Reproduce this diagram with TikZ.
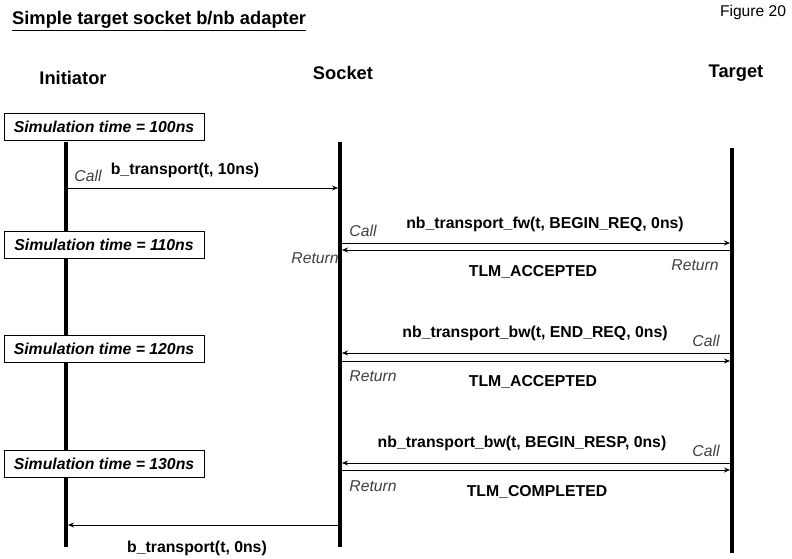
\documentclass[tikz,border=0pt]{standalone}
\usepackage{fontspec}
\setmainfont{Liberation Sans}
\usetikzlibrary{arrows.meta}
\begin{document}
\begin{tikzpicture}[x=1pt,y=-1pt,
  life/.style={line width=3.6pt},
  msg/.style={line width=0.8pt,-{Stealth[length=6pt,width=5pt]}},
  simbox/.style={draw,line width=0.8pt,minimum width=200pt,minimum height=27pt,inner sep=0pt,font=\fontsize{15.8}{18}\selectfont\bfseries\itshape},
  lbl/.style={font=\fontsize{15.8}{18}\selectfont\bfseries,inner sep=0pt},
  cr/.style={font=\fontsize{15.7}{18}\selectfont\itshape,text=black!75,inner sep=0pt},
  head/.style={font=\fontsize{18.3}{21}\selectfont\bfseries,inner sep=0pt}]
\useasboundingbox (0,0) rectangle (792,559);
% title
\node[font=\fontsize{18.3}{21}\selectfont\bfseries,inner sep=0pt,anchor=west] (title) at (12,21) {\underline{Simple target socket b/nb adapter}};
\node[font=\fontsize{15.6}{18}\selectfont,inner sep=0pt] (fig) at (753,12) {Figure 20};
% headers
\node[head] (hi) at (73,78) {Initiator};
\node[head] (hs) at (343,73) {Socket};
\node[head] (ht) at (736,73) {Target};
% lifelines
\coordinate (it) at (66,142); \coordinate (ib) at (66,547);
\coordinate (st) at (340,142); \coordinate (sb) at (340,547);
\coordinate (tt) at (732,148); \coordinate (tb) at (732,553);
\draw[life] (it) -- (ib);
\draw[life] (st) -- (sb);
\draw[life] (tt) -- (tb);
% simulation time boxes
\node[simbox,fill=white] (s100) at (104,127) {Simulation time = 100ns};
\node[simbox,fill=white] (s110) at (104,244.5) {Simulation time = 110ns};
\node[simbox,fill=white] (s120) at (104,348.5) {Simulation time = 120ns};
\node[simbox,fill=white] (s130) at (104,463.5) {Simulation time = 130ns};
% message 1
\coordinate (a1s) at (68,188); \coordinate (a1e) at (338,188);
\draw[msg] (a1s) -- (a1e);
\node[lbl] (l1) at (185,170) {b\_transport(t, 10ns)};
\node[cr] (c1) at (88,176) {Call};
% message 2
\coordinate (a2s) at (342,243); \coordinate (a2e) at (730,243);
\coordinate (r2s) at (730,250); \coordinate (r2e) at (342,250);
\draw[msg] (a2s) -- (a2e);
\draw[msg] (r2s) -- (r2e);
\node[lbl] (l2) at (545,224) {nb\_transport\_fw(t, BEGIN\_REQ, 0ns)};
\node[cr] (c2) at (363,231) {Call};
\node[cr] (rt2a) at (315,258) {Return};
\node[lbl] (tl2) at (533,272) {TLM\_ACCEPTED};
\node[cr] (rt2b) at (695,265) {Return};
% message 3
\coordinate (a3s) at (730,353); \coordinate (a3e) at (342,353);
\coordinate (r3s) at (342,361); \coordinate (r3e) at (730,361);
\draw[msg] (a3s) -- (a3e);
\draw[msg] (r3s) -- (r3e);
\node[lbl] (l3) at (535,333) {nb\_transport\_bw(t, END\_REQ, 0ns)};
\node[cr] (c3) at (706,341) {Call};
\node[cr] (rt3) at (373,376) {Return};
\node[lbl] (tl3) at (533,382) {TLM\_ACCEPTED};
% message 4
\coordinate (a4s) at (730,463); \coordinate (a4e) at (342,463);
\coordinate (r4s) at (342,470); \coordinate (r4e) at (730,470);
\draw[msg] (a4s) -- (a4e);
\draw[msg] (r4s) -- (r4e);
\node[lbl] (l4) at (522,443) {nb\_transport\_bw(t, BEGIN\_RESP, 0ns)};
\node[cr] (c4) at (706,451) {Call};
\node[cr] (rt4) at (373,486) {Return};
\node[lbl] (tl4) at (537,492) {TLM\_COMPLETED};
% message 5
\coordinate (a5s) at (338,525); \coordinate (a5e) at (68,525);
\draw[msg] (a5s) -- (a5e);
\node[lbl] (l5) at (197,548) {b\_transport(t, 0ns)};
\end{tikzpicture}
\end{document}
